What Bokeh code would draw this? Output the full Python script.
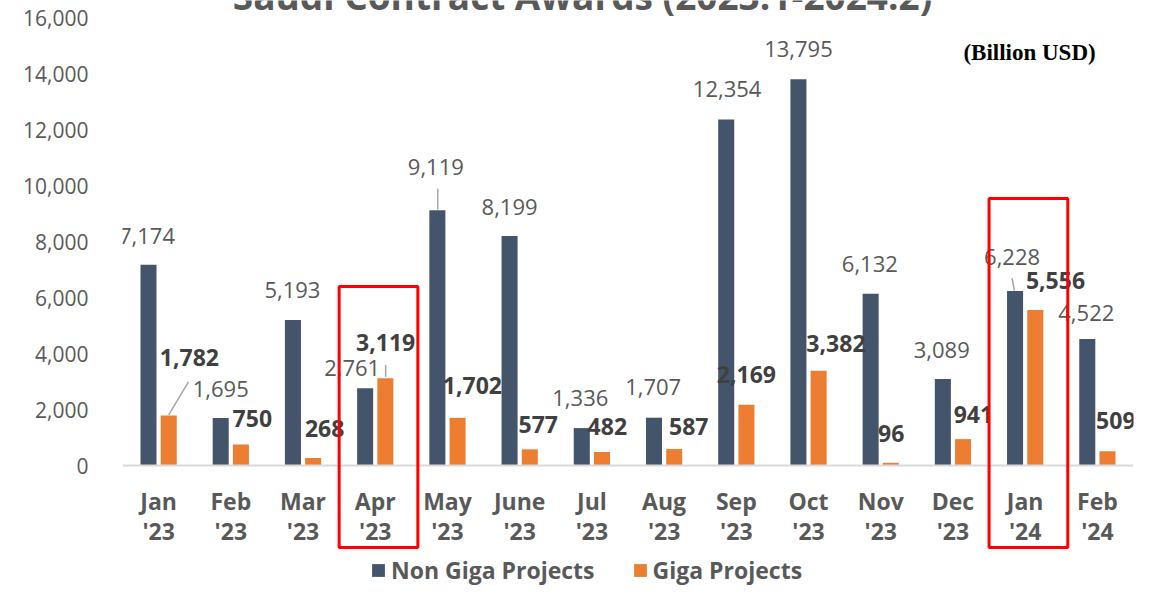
import numpy as np
from bokeh.plotting import figure
from bokeh.models import (ColumnDataSource, FixedTicker, NumeralTickFormatter, Range1d,
                          Label, BoxAnnotation, Legend, LegendItem, Span)
from bokeh.core.properties import value
from bokeh.embed import file_html
from bokeh.resources import INLINE

# ---------------- data ----------------
months = ["Jan\n'23", "Feb\n'23", "Mar\n'23", "Apr\n'23", "May\n'23", "June\n'23", "Jul\n'23",
          "Aug\n'23", "Sep\n'23", "Oct\n'23", "Nov\n'23", "Dec\n'23", "Jan\n'24", "Feb\n'24"]
non_giga = [7174, 1695, 5193, 2761, 9119, 8199, 1336, 1707, 12354, 13795, 6132, 3089, 6228, 4522]
giga = [1782, 750, 268, 3119, 1702, 577, 482, 587, 2169, 3382, 96, 941, 5556, 509]
y_ticks = [0, 2000, 4000, 6000, 8000, 10000, 12000, 14000, 16000]
series_names = ["Non Giga Projects", "Giga Projects"]
highlight = ["Apr\n'23", "Jan\n'24"]
title_text = "Saudi Contract Awards (2023.1-2024.2)"
unit_text = "(Billion USD)"

# ---------------- layout / style ----------------
W, H = 1142, 586
BL = 122
TOP_PAD = 17                     # px between canvas top and the 16,000 line
N = len(months)
PX_X = 72.23                     # px per category
FW = int(round(PX_X * N))
BR = W - BL - FW
PX_Y = 448 / 16000.0             # px per unit (0 .. 16000 spans 448 px)
Y_TOP = 16000 + TOP_PAD / PX_Y   # data value at canvas top
Y_BOTTOM = -(H - TOP_PAD - 448) / PX_Y   # data value at canvas bottom
OFF = 0.14                       # dodge offset (category units)
BW = 0.222                       # bar width
NAVY, ORANGE = "#44546A", "#ED7D31"
FONT = "Open Sans"

# label offsets in px relative to each bar's top centre (screen convention: +down)
non_dx = [-1.5, 0, -0.5, -13, -1.5, 0, -1.5, -0.8, 0.9, 0, -0.8, -1.1, -3, -1]
non_dy = [-29, -29.5, -29.6, -19.7, -42.7, -29.3, -30, -30.6, -31, -30, -30, -29, -34.6, -25.7]
giga_dx = [20.7, 11.4, 11.5, 0.3, 14.8, 8.5, 5.3, 14.5, 0, 17.3, 0.4, 10.3, 20.2, 8.3]
giga_dy = [-57.7, -26.3, -29.7, -35.3, -32.3, -25.3, -26, -23, -30, -27, -29.6, -25, -29.3, -30.3]

# leader lines: (series, month index, start dx, start dy, end dx, end dy) in px from bar top
leaders = [("giga", 0, 19.7, -33.7, 0, -0.7),
           ("giga", 3, 0.3, -13.3, 0.3, -1.3),
           ("non", 4, 0.4, -21.4, 0.4, -0.7),
           ("non", 12, -3, -12.9, -0.7, -0.6)]
box_tops = [6393, 9536]     # red highlight boxes (data units)
box_bottom = -2930

idx = np.arange(N)

p = figure(width=W, height=H, output_backend="svg", toolbar_location=None,
           x_range=Range1d(-0.5, N - 0.5), y_range=Range1d(Y_BOTTOM, Y_TOP),
           x_axis_location=None,
           min_border_left=BL, min_border_right=BR, min_border_top=0, min_border_bottom=0)
p.outline_line_color = None
p.grid.visible = False
p.background_fill_color = "white"
p.border_fill_color = "white"

# baseline
p.add_layout(Span(location=0, dimension="width", line_color="#D9D9D9", line_width=2))

src = ColumnDataSource(dict(x_non=idx - OFF, x_giga=idx + OFF, non=non_giga, giga=giga))
r1 = p.vbar(x="x_non", top="non", width=BW, source=src, fill_color=NAVY, line_color=None)
r2 = p.vbar(x="x_giga", top="giga", width=BW, source=src, fill_color=ORANGE, line_color=None)

# data labels
lab_non = ColumnDataSource(dict(x=idx - OFF, y=non_giga, t=[f"{v:,}" for v in non_giga],
                                dx=non_dx, dy=non_dy))
p.text(x="x", y="y", text="t", x_offset="dx", y_offset="dy", source=lab_non,
       text_align="center", text_baseline="middle", text_font=value(FONT),
       text_font_size="22px", text_color="#595959")
lab_giga = ColumnDataSource(dict(x=idx + OFF, y=giga, t=[f"{v:,}" for v in giga],
                                 dx=giga_dx, dy=giga_dy))
p.text(x="x", y="y", text="t", x_offset="dx", y_offset="dy", source=lab_giga,
       text_align="center", text_baseline="middle", text_font=value(FONT),
       text_font_size="23px", text_font_style="bold", text_color="#404040")

# leader lines
x0, y0, x1, y1 = [], [], [], []
for s, i, sdx, sdy, edx, edy in leaders:
    bx = i - OFF if s == "non" else i + OFF
    top = non_giga[i] if s == "non" else giga[i]
    x0.append(bx + sdx / PX_X); y0.append(top - sdy / PX_Y)
    x1.append(bx + edx / PX_X); y1.append(top - edy / PX_Y)
p.segment(x0=x0, y0=y0, x1=x1, y1=y1, line_color="#A6A6A6", line_width=1.5)

# category labels (two lines, drawn under the baseline)
cat_src = ColumnDataSource(dict(x=idx, y=[0] * N,
                                l1=[m.split("\n")[0] for m in months],
                                l2=[m.split("\n")[1] for m in months]))
for col, off in (("l1", 35), ("l2", 65)):
    p.text(x="x", y="y", text=col, y_offset=off, source=cat_src, text_align="center",
           text_baseline="middle", text_font=value(FONT), text_font_size="23px",
           text_font_style="bold", text_color="#595959")

# y axis
p.yaxis.ticker = FixedTicker(ticks=y_ticks)
p.yaxis.formatter = NumeralTickFormatter(format="0,0")
p.yaxis.axis_line_color = None
p.yaxis.major_tick_line_color = None
p.yaxis.minor_tick_line_color = None
p.yaxis.major_label_standoff = 28
p.yaxis.major_label_text_font = FONT
p.yaxis.major_label_text_font_size = "21px"
p.yaxis.major_label_text_color = "#595959"

# red highlight boxes
for m, top in zip(highlight, box_tops):
    i = months.index(m)
    p.add_layout(BoxAnnotation(left=i - 0.5, right=i + 0.59, top=top, bottom=box_bottom,
                               fill_alpha=0, line_color="#FF0000", line_alpha=1.0,
                               line_width=3, level="overlay"))

# title (cut at top like the reference) and unit note
p.add_layout(Label(x=5.87, y=16000 + (TOP_PAD - 20) / PX_Y, text=title_text, text_align="center",
                   text_baseline="bottom", text_font=FONT, text_font_size="37px",
                   text_font_style="bold", text_color="#595959"))
p.add_layout(Label(x=12.06, y=14761, text=unit_text, text_align="center",
                   text_baseline="middle", text_font="Liberation Serif", text_font_size="23px",
                   text_font_style="bold", text_color="#000000"))

legend = Legend(items=[LegendItem(label=series_names[0], renderers=[r1]),
                       LegendItem(label=series_names[1], renderers=[r2])],
                orientation="horizontal", location=(248, 0), glyph_width=16, glyph_height=16,
                label_standoff=5, spacing=37, padding=0, margin=0, border_line_color=None,
                background_fill_alpha=0, label_text_font=FONT, label_text_font_size="23px",
                label_text_font_style="bold", label_text_color="#595959")
p.add_layout(legend)

open("out.html", "w").write(file_html(p, INLINE))
